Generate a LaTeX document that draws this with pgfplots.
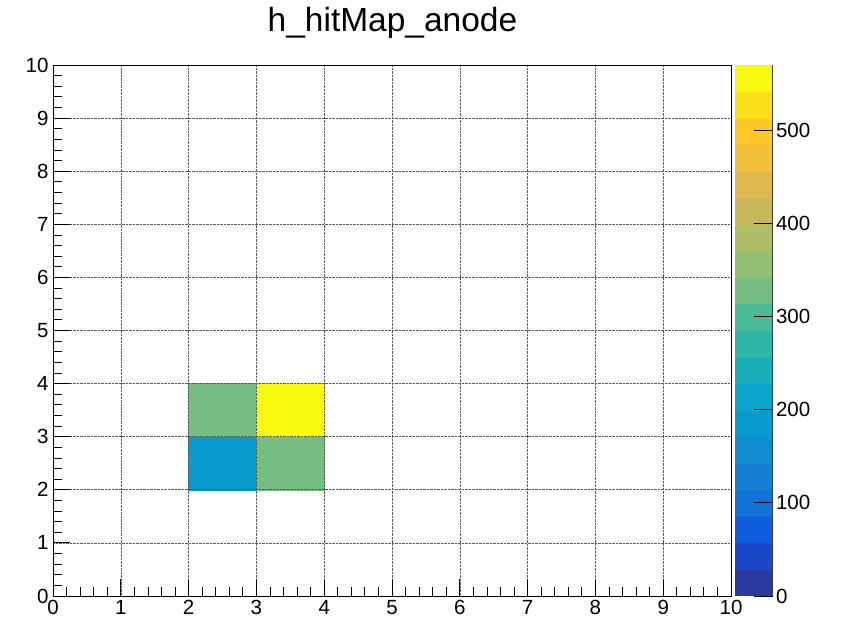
\documentclass[border=0pt]{standalone}
\usepackage{fontspec}
\setmainfont{Liberation Sans}
\usepackage{pgfplots}
\pgfplotsset{compat=1.18}
\begin{document}
\begin{tikzpicture}[x=1pt,y=1pt]
\useasboundingbox (0,0) rectangle (846,620);
\node[anchor=base,font=\fontsize{33.5}{33.5}\selectfont] at (392.5,588) {h\_hitMap\_anode};
\begin{axis}[
  at={(53pt,24pt)}, anchor=south west,
  scale only axis, width=678pt, height=531pt,
  xmin=0, xmax=10, ymin=0, ymax=10,
  xtick={0,1,...,10}, ytick={0,1,...,10},
  minor tick num=4,
  tick align=inside, tick pos=left,
  major tick length=17pt, minor tick length=9pt,
  every tick/.style={black, line width=0.8pt},
  axis line style={line width=0.8pt},
  grid=major,
  major grid style={densely dotted, black!65, line width=0.6pt},
  axis on top,
  /pgf/number format/assume math mode=true,
  every tick label/.append style={font=\fontsize{20.5}{20.5}\selectfont},
  xticklabel style={yshift=-1pt},
  yticklabel style={xshift=-1pt},
  colormap={rootbird}{
    rgb255=(44,58,160) rgb255=(26,71,197) rgb255=(15,93,220) rgb255=(19,114,216)
    rgb255=(21,128,210) rgb255=(15,141,208) rgb255=(8,153,205) rgb255=(11,164,202)
    rgb255=(26,174,187) rgb255=(46,182,168) rgb255=(75,186,150) rgb255=(117,189,128)
    rgb255=(146,191,114) rgb255=(173,189,102) rgb255=(201,183,92) rgb255=(224,185,78)
    rgb255=(243,192,60) rgb255=(253,200,40) rgb255=(249,224,27) rgb255=(248,250,13)},
  colormap access=piecewise constant,
  point meta min=0, point meta max=570,
  colorbar right,
  colorbar style={
    at={(parent axis.north east)}, anchor=north west, xshift=-5pt,
    scale only axis, width=38pt, height=531pt,
    ytick={0,100,...,500},
    yticklabel pos=right,
    axis x line=none, axis y line*=right,
    axis on top,
    tick align=inside,
    major tick length=19pt,
    every tick/.style={black, line width=0.8pt},
    axis line style={black!75, line width=1pt},
    yticklabel style={font=\fontsize{20.5}{20.5}\selectfont, xshift=0pt},
    /pgf/number format/assume math mode=true,
  },
]
\addplot[patch, patch type=rectangle, shader=flat mean, point meta=explicit]
  table[meta=c] {
x y c
2 2 185
3 2 185
3 3 185
2 3 185
3 2 330
4 2 330
4 3 330
3 3 330
2 3 330
3 3 330
3 4 330
2 4 330
3 3 570
4 3 570
4 4 570
3 4 570
};
\end{axis}
\end{tikzpicture}
\end{document}
